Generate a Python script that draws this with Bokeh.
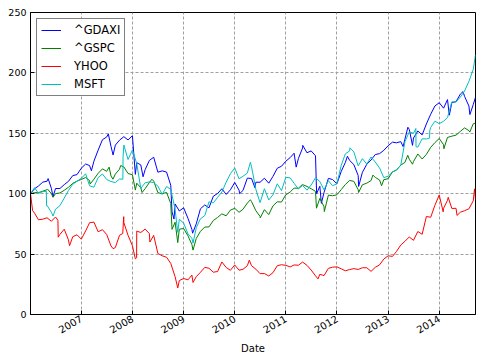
import pandas as pd
from bokeh.plotting import figure
from bokeh.models import Range1d, FixedTicker, DatetimeTickFormatter, Legend, LegendItem
from bokeh.embed import file_html
from bokeh.resources import INLINE

# ---- data (normalised prices, value at start of each month) ----
start_date = "2006-01-03"
end_date = "2014-09-17"
month_starts = [d.strftime("%Y-%m-%d") for d in pd.date_range("2006-02-01", "2014-09-01", freq="MS")]
dates = [start_date] + month_starts + [end_date]

gdaxi = [
    100.0, 104.1, 106.4, 109.6, 110.3, 104.5, 104.3, 104.3, 107.5, 110.2, 115.0, 115.8,
    121.1, 124.6, 123.3, 126.9, 136.0, 144.7, 146.9, 139.2, 140.2, 144.3, 147.2, 144.5,
    148.0, 125.7, 123.8, 119.9, 127.5, 130.2, 117.8, 118.9, 117.9, 107.0, 91.5, 85.7,
    88.3, 79.6, 70.5, 75.0, 87.5, 90.7, 88.3, 97.9, 100.2, 104.1, 99.4, 103.2,
    109.3, 102.9, 102.7, 112.9, 112.6, 109.5, 109.5, 112.8, 108.7, 114.3, 121.1, 122.7,
    126.9, 129.9, 133.5, 129.2, 137.9, 133.9, 135.4, 131.4, 106.2, 101.0, 112.7, 111.7,
    108.2, 118.5, 125.8, 127.5, 124.1, 115.0, 117.7, 124.3, 127.9, 132.4, 133.2, 135.9,
    139.7, 142.7, 142.1, 143.1, 145.2, 153.2, 146.1, 151.9, 148.7, 157.7, 165.8, 172.6,
    175.3, 170.8, 177.9, 175.4, 176.2, 182.5, 180.5, 172.6, 173.8,
    179.9]
gdaxi_extra_dates = ["2006-05-09", "2006-06-13", "2007-03-14", "2007-07-13", "2007-08-16",
                     "2008-01-22", "2008-03-17", "2008-10-10", "2008-10-24", "2009-03-06",
                     "2010-02-05", "2010-05-25", "2011-03-16", "2011-05-02", "2011-08-09",
                     "2011-09-12", "2012-03-16", "2012-06-04", "2013-04-18", "2013-05-22",
                     "2013-06-24", "2014-03-14", "2014-06-20", "2014-08-08"]
gdaxi_extra = [112.5, 97.5, 119.0, 149.5, 132.0,
               116.0, 114.0, 85.0, 79.0, 67.3,
               100.0, 105.0, 122.0, 140.0, 100.0,
               92.0, 131.0, 106.0, 139.0, 155.0,
               140.0, 165.0, 184.5, 165.5]

gspc = [
    100.0, 100.9, 100.9, 102.1, 103.3, 100.1, 100.1, 100.6, 102.8, 105.3, 108.6, 110.4,
    111.8, 113.4, 110.9, 112.0, 116.8, 120.6, 118.5, 114.7, 116.2, 120.3, 122.1, 116.7,
    115.7, 108.7, 104.9, 104.2, 109.2, 110.4, 100.9, 99.9, 101.1, 91.9, 76.4, 70.6,
    71.2, 65.1, 57.9, 62.9, 68.8, 72.4, 72.5, 77.8, 80.4, 83.3, 81.7, 86.4,
    87.9, 84.6, 87.1, 92.2, 93.5, 85.9, 81.2, 86.8, 82.7, 89.9, 93.3, 93.1,
    99.1, 101.4, 104.6, 104.5, 107.5, 106.0, 104.1, 101.9, 96.1, 89.2, 98.8, 98.3,
    99.1, 103.4, 107.6, 111.0, 110.2, 103.3, 107.4, 108.7, 110.9, 113.5, 111.3, 111.6,
    112.4, 118.1, 119.4, 123.7, 125.9, 128.5, 126.6, 132.9, 128.7, 132.5, 138.4, 142.3,
    145.7, 140.5, 146.6, 147.6, 148.5, 151.6, 154.5, 152.2, 157.9,
    158.4]
gspc_extra_dates = ["2006-05-05", "2006-06-13", "2007-03-05", "2007-07-19", "2007-08-15",
                    "2007-10-09", "2008-01-22", "2008-03-10", "2008-05-19", "2008-10-10",
                    "2008-11-20", "2009-03-09", "2010-04-23", "2010-07-02", "2011-04-29",
                    "2011-08-08", "2011-10-03", "2012-06-04", "2012-09-14", "2012-11-15",
                    "2013-05-21", "2013-06-24", "2014-02-03", "2014-08-07"]
gspc_extra = [103.8, 97.0, 108.0, 122.0, 112.0,
              123.3, 103.0, 101.0, 112.0, 70.5,
              59.5, 53.3, 95.0, 80.0, 107.6,
              88.0, 85.2, 101.0, 115.4, 106.6,
              131.8, 124.4, 137.2, 151.0]

yhoo = [
    100.0, 83.9, 78.4, 78.9, 80.1, 77.2, 80.7, 66.3, 70.6, 61.8, 64.4, 66.0,
    62.4, 69.2, 76.0, 76.5, 68.5, 70.2, 66.3, 56.8, 55.4, 65.6, 76.0, 65.5,
    56.9, 69.0, 67.9, 70.7, 67.0, 65.5, 50.5, 48.6, 47.4, 42.3, 31.3, 28.1,
    29.8, 28.7, 32.6, 31.3, 34.9, 39.0, 38.3, 35.0, 35.6, 43.5, 38.9, 36.6,
    41.0, 36.7, 37.4, 40.4, 40.4, 37.5, 33.8, 33.9, 31.9, 34.6, 40.4, 41.2,
    40.7, 39.4, 41.0, 40.8, 43.4, 40.7, 36.8, 32.0, 33.3, 32.2, 38.2, 39.2,
    39.4, 37.8, 36.2, 37.2, 38.0, 37.3, 38.7, 38.7, 35.7, 39.1, 41.1, 45.9,
    48.6, 48.1, 52.1, 57.5, 60.6, 64.2, 61.4, 68.7, 66.4, 81.1, 80.5, 90.4,
    98.9, 88.0, 94.5, 87.8, 87.9, 84.7, 85.9, 87.5, 94.1,
    95.0]
yhoo_extra_dates = ["2006-01-18", "2006-07-18", "2006-07-20", "2006-10-09", "2007-08-16",
                    "2007-10-24", "2007-10-31", "2008-01-22", "2008-01-31", "2008-05-05",
                    "2008-11-20", "2009-03-09", "2010-04-15", "2011-08-19", "2014-01-29",
                    "2014-03-06", "2014-05-08", "2014-09-10"]
yhoo_extra = [86.0, 78.0, 64.0, 57.0, 54.5,
              67.0, 81.0, 46.0, 47.0, 60.0,
              22.0, 26.5, 45.0, 29.5, 85.0,
              97.0, 82.0, 104.0]

msft = [
    100.0, 105.0, 100.3, 101.7, 90.3, 84.7, 87.2, 90.1, 96.4, 102.6, 107.8, 110.3,
    112.7, 116.5, 106.5, 105.4, 113.3, 116.3, 111.8, 110.1, 109.2, 112.2, 140.3, 128.3,
    136.2, 124.9, 104.4, 109.0, 109.8, 109.2, 106.3, 99.5, 105.9, 103.7, 86.9, 78.8,
    75.7, 66.7, 63.1, 71.8, 79.3, 81.8, 93.3, 92.4, 97.0, 101.4, 109.6, 116.5,
    121.3, 112.3, 114.4, 117.1, 122.4, 103.6, 92.6, 104.1, 94.8, 99.1, 108.2, 102.6,
    113.6, 113.1, 108.6, 104.0, 106.8, 102.9, 107.2, 113.2, 110.1, 103.2, 110.7, 106.6,
    108.3, 123.5, 133.0, 135.4, 134.6, 123.0, 129.0, 124.5, 130.4, 126.2, 121.2, 113.3,
    114.5, 118.0, 119.8, 123.5, 143.1, 151.2, 150.0, 138.5, 145.5, 145.3, 154.9, 160.0,
    158.0, 160.0, 163.0, 176.0, 176.0, 180.0, 185.0, 193.0, 203.0,
    215.0]
msft_extra_dates = ["2006-04-26", "2006-04-28", "2006-06-13", "2007-10-25", "2007-10-26",
                    "2008-11-20", "2009-03-09", "2010-04-23", "2012-04-03", "2013-07-18",
                    "2013-07-19", "2013-10-24", "2013-10-25"]
msft_extra = [102.0, 90.0, 81.5, 112.0, 130.0,
              68.0, 59.0, 126.0, 138.0, 154.0,
              139.0, 146.0, 152.0]

series_names = ["^GDAXI", "^GSPC", "YHOO", "MSFT"]
series_values = [gdaxi, gspc, yhoo, msft]
series_extra_dates = [gdaxi_extra_dates, gspc_extra_dates, yhoo_extra_dates, msft_extra_dates]
series_extra = [gdaxi_extra, gspc_extra, yhoo_extra, msft_extra]
series_colors = ["#0000ff", "#008000", "#ff0000", "#00bfbf"]

year_ticks = [2007, 2008, 2009, 2010, 2011, 2012, 2013, 2014]
y_ticks = [0, 50, 100, 150, 200, 250]
x_label = "Date"

FONT = "DejaVu Sans"


def merged(monthly, extra_dates, extra_vals):
    pts = {pd.Timestamp(d): v for d, v in zip(dates, monthly)}
    for d, v in zip(extra_dates, extra_vals):
        pts[pd.Timestamp(d)] = v
    keys = sorted(pts)
    return keys, [pts[k] for k in keys]


p = figure(width=482, height=361, x_axis_type="datetime",
           output_backend="svg", toolbar_location=None,
           x_range=Range1d(pd.Timestamp(start_date), pd.Timestamp(end_date)),
           y_range=Range1d(0, 250),
           min_border_left=30, min_border_right=7, min_border_top=12, min_border_bottom=47)

p.background_fill_color = "white"
p.border_fill_color = "white"
p.outline_line_color = "black"
p.outline_line_width = 1
p.outline_line_alpha = 1

items = []
for name, vals, edates, evals, col in zip(series_names, series_values, series_extra_dates,
                                          series_extra, series_colors):
    xs, ys = merged(vals, edates, evals)
    r = p.line(xs, ys, line_color=col, line_width=1)
    items.append(LegendItem(label=name, renderers=[r]))

xt = [pd.Timestamp(f"{y}-01-01").value // 10**6 for y in year_ticks]
p.xaxis.ticker = FixedTicker(ticks=xt)
p.xaxis.formatter = DatetimeTickFormatter(years="%Y", months="%Y", days="%Y",
                                          hours="%Y", minutes="%Y", seconds="%Y",
                                          milliseconds="%Y", microseconds="%Y")
p.xaxis.major_label_orientation = 0.5236
p.yaxis.ticker = FixedTicker(ticks=y_ticks)
p.xgrid.ticker = FixedTicker(ticks=xt)
p.ygrid.ticker = FixedTicker(ticks=y_ticks)

for ax in (p.xaxis[0], p.yaxis[0]):
    ax.major_tick_in = 4
    ax.major_tick_out = 0
    ax.minor_tick_line_color = None
    ax.axis_line_color = "black"
    ax.major_tick_line_color = "black"
    ax.major_label_text_font = FONT
    ax.major_label_text_color = "black"

p.yaxis.major_label_text_font_size = "9.5px"
p.xaxis.major_label_text_font_size = "10px"
p.yaxis.major_label_standoff = 4
p.xaxis.major_label_standoff = 3
p.xaxis.axis_label = x_label
p.xaxis.axis_label_text_font = FONT
p.xaxis.axis_label_text_font_size = "10px"
p.xaxis.axis_label_text_font_style = "normal"
p.xaxis.axis_label_text_color = "black"
p.xaxis.axis_label_standoff = 3

for g in (p.xgrid[0], p.ygrid[0]):
    g.grid_line_color = "#a0a0a0"
    g.grid_line_dash = "3 2"
    g.grid_line_width = 1

legend = Legend(items=items, location="top_left")
legend.margin = 6
legend.padding = 4
legend.spacing = 4
legend.label_height = 14
legend.glyph_height = 14
legend.glyph_width = 20
legend.label_standoff = 13
legend.label_text_font = FONT
legend.label_text_font_size = "11.5px"
legend.label_text_color = "black"
legend.border_line_color = "black"
legend.border_line_width = 1
legend.background_fill_color = "white"
legend.background_fill_alpha = 1
p.add_layout(legend)

open("out.html", "w").write(file_html(p, INLINE))
